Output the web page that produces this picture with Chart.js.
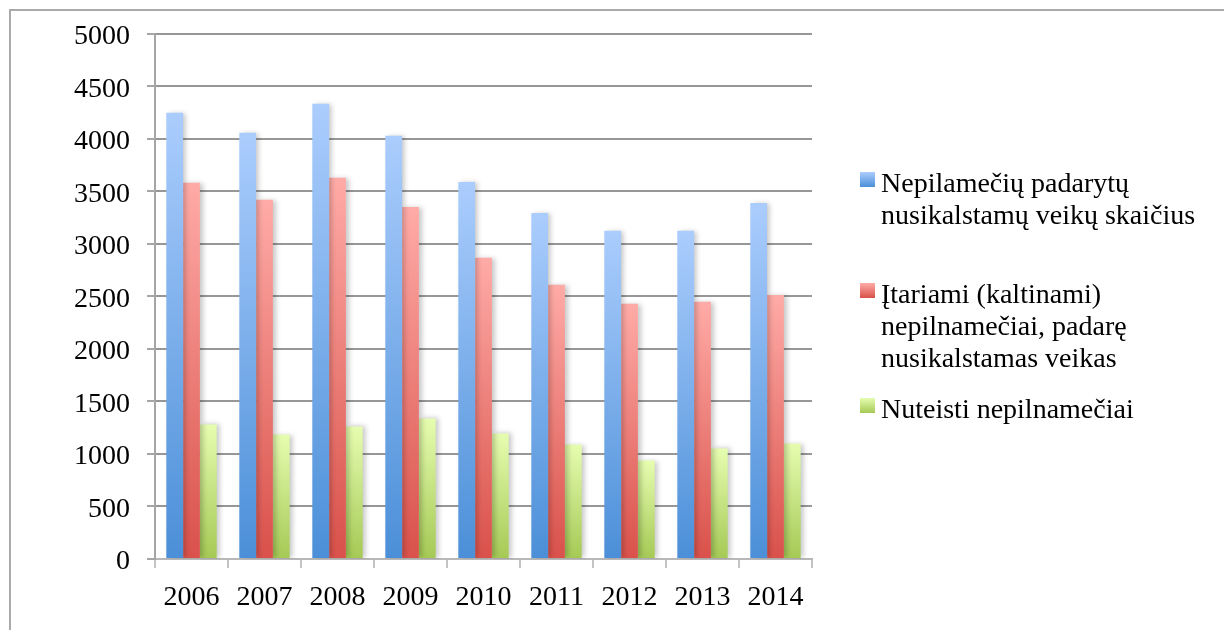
<!DOCTYPE html>
<html>
<head>
<meta charset="utf-8">
<script src="https://cdn.jsdelivr.net/npm/chart.js@4/dist/chart.umd.min.js"></script>
<style>
  body { margin: 0; background: #ffffff; }
  #frame { position: absolute; left: 9px; top: 9px; width: 1300px; height: 700px;
           border-left: 2px solid #aaaaaa; border-top: 2px solid #aaaaaa; }
  #wrap { position: absolute; left: 0; top: 0; width: 1224px; height: 630px; }
  .legitem { position: absolute; left: 860px; font-family: "Liberation Serif", serif;
             font-size: 28px; line-height: 32px; color: #000; }
  .legbox { position: absolute; left: 0; width: 15px; height: 15px; }
  .legtext { position: absolute; left: 21px; white-space: nowrap; }
</style>
</head>
<body>
<div id="frame"></div>
<div id="wrap"><canvas id="chart"></canvas></div>
<div id="legend"></div>
<script>
//* Input data //*

var years = ['2006', '2007', '2008', '2009', '2010', '2011', '2012', '2013', '2014'];
var crimes = [4248, 4057, 4333, 4029, 3590, 3295, 3124, 3124, 3390];
// Nepilamečių padarytų nusikalstamų veikų skaičius
var suspects = [3581, 3419, 3629, 3352, 2867, 2610, 2429, 2448, 2514];
// Įtariami (kaltinami) nepilnamečiai
var convicted = [1281, 1185, 1262, 1338, 1195, 1090, 937, 1052, 1099];
// Nuteisti nepilnamečiai
var seriesNames = [
    ['Nepilamečių padarytų', 'nusikalstamų veikų skaičius'],
    ['Įtariami (kaltinami)', 'nepilnamečiai, padarę', 'nusikalstamas veikas'],
    ['Nuteisti nepilnamečiai']
];
var yTicks = [0, 500, 1000, 1500, 2000, 2500, 3000, 3500, 4000, 4500, 5000];

var shades = [['#abcdfd', '#4b8fd8'], ['#ffaba7', '#d9514a'], ['#e6fdb0', '#a5c955']];
// Light top and dark bottom of each series gradient.

var fontFam = '"Liberation Serif", serif';

function barFill(k) {
    // Gradient per bar, from its top down to the zero line.
    return function(context) {
        var chart = context.chart;
        if (!chart.chartArea || context.raw === undefined) {
            return shades[k][1];
        }
        var yScale = chart.scales.y;
        var top = yScale.getPixelForValue(context.raw);
        var base = yScale.getPixelForValue(0);
        var g = chart.ctx.createLinearGradient(0, top, 0, base);
        g.addColorStop(0, shades[k][0]);
        g.addColorStop(1, shades[k][1]);
        return g;
    };
}

var barShadow = {
    id: 'barShadow',
    beforeDatasetsDraw: function(chart) {
        var ctx = chart.ctx;
        ctx.save();
        ctx.shadowColor = 'rgba(0, 0, 0, 0.22)';
        ctx.shadowBlur = 5;
        ctx.shadowOffsetX = 3;
        ctx.shadowOffsetY = 0;
    },
    afterDatasetsDraw: function(chart) {
        chart.ctx.restore();
    }
};

function makeChart() {
    var allData = [crimes, suspects, convicted];
    var datasets = allData.map(function(vals, k) {
        return {
            label: seriesNames[k].join(' '),
            data: vals,
            backgroundColor: barFill(k),
            borderWidth: 0,
            categoryPercentage: 0.69,
            barPercentage: 1.0
        };
    });

    var chart = new Chart(document.getElementById('chart').getContext('2d'), {
        type: 'bar',
        data: { labels: years, datasets: datasets },
        options: {
            responsive: true,
            maintainAspectRatio: false,
            animation: false,
            layout: { padding: { top: 33, right: 412, bottom: 0, left: 0 } },
            plugins: { legend: { display: false }, tooltip: { enabled: false } },
            scales: {
                x: {
                    grid: {
                        drawOnChartArea: false,
                        drawTicks: true,
                        tickLength: 9,
                        color: '#c4c4c4',
                        lineWidth: 2
                    },
                    border: { color: '#b8b8b8', width: 2 },
                    ticks: { color: '#000', padding: 13, font: { family: fontFam, size: 28 } },
                    afterFit: function(scale) { scale.height = 71; }
                },
                y: {
                    min: 0,
                    max: 5000,
                    afterBuildTicks: function(scale) {
                        scale.ticks = yTicks.map(function(v) { return { value: v }; });
                    },
                    grid: {
                        color: function(ctx) { return ctx.tick && ctx.tick.value === 0 ? '#b8b8b8' : '#979797'; },
                        lineWidth: 2,
                        tickLength: 8,
                        tickColor: '#a6a6a6'
                    },
                    border: { color: '#a6a6a6', width: 2 },
                    ticks: {
                        color: '#000',
                        padding: 17,
                        labelOffset: 3,
                        font: { family: fontFam, size: 28 },
                        callback: function(value) { return String(value); }
                        // Plain numbers, no thousands separator.
                    },
                    afterFit: function(scale) { scale.width = 155; }
                }
            }
        },
        plugins: [barShadow]
    });
    return chart;
}

function makeLegend() {
    // Legend with wrapped names, placed beside the plot.
    var tops = [167, 278, 393];
    var holder = document.getElementById('legend');
    var i;
    for (i = 0; i < seriesNames.length; i++) {
        var item = document.createElement('div');
        item.className = 'legitem';
        item.style.top = tops[i] + 'px';
        var box = document.createElement('div');
        box.className = 'legbox';
        box.style.top = '5px';
        box.style.background = 'linear-gradient(' + shades[i][0] + ', ' + shades[i][1] + ')';
        item.appendChild(box);
        var text = document.createElement('div');
        text.className = 'legtext';
        text.innerHTML = seriesNames[i].join('<br>');
        item.appendChild(text);
        holder.appendChild(item);
    }
}

makeLegend();
var barChart = makeChart();
</script>
</body>
</html>
